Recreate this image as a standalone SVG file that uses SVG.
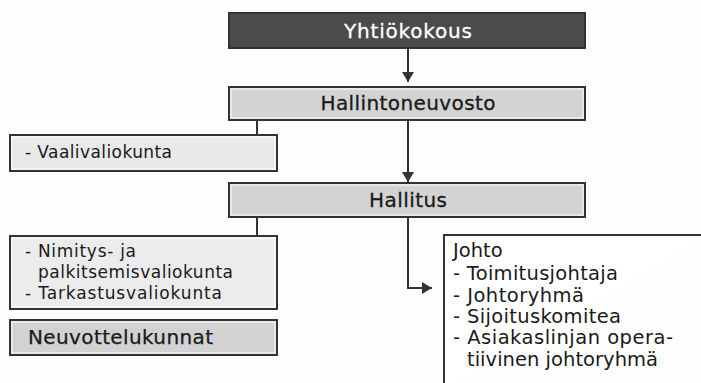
<svg xmlns="http://www.w3.org/2000/svg" width="701" height="383" viewBox="0 0 701 383">
<style>
text{font-family:"DejaVu Sans","Liberation Sans",sans-serif;fill:#1a1a1a}
.b{stroke:#333;stroke-width:2}
.in{fill:none;stroke:#fff;stroke-width:1}
.h{font-size:20px;text-anchor:middle;stroke:#1a1a1a;stroke-width:0.3}
.l{font-size:17px}
.j{font-size:19.5px}
.c{fill:none;stroke:#333;stroke-width:2}
</style>
<defs>
<marker id="ah" markerWidth="12" markerHeight="12" viewBox="0 0 10 12" refX="10" refY="6" orient="auto" markerUnits="userSpaceOnUse">
<path d="M0,0 L10,6 L0,12 z" fill="#333"/>
</marker>
</defs>
<rect width="701" height="383" fill="#fdfdfd"/>
<g id="connectors">
<path class="c" d="M408,48 V82" marker-end="url(#ah)"/>
<path class="c" d="M408,120 V182" marker-end="url(#ah)"/>
<path class="c" d="M257,120 V135"/>
<path class="c" d="M257,217 V236"/>
<path class="c" d="M408,217 V288 H432" marker-end="url(#ah)"/>
</g>
<g id="yhtiokokous">
<rect class="b" x="229" y="13" width="356" height="35" fill="#4b4b4b"/>
<text class="h" x="408" y="38" style="fill:#fff;stroke:#fff" textLength="128" lengthAdjust="spacing">Yhtiökokous</text>
</g>
<g id="hallintoneuvosto">
<rect class="b" x="229" y="87" width="356" height="33" fill="#d3d3d3"/>
<rect class="in" x="231" y="89" width="352" height="29"/>
<text class="h" x="408" y="110" textLength="175" lengthAdjust="spacing">Hallintoneuvosto</text>
</g>
<g id="vaalivaliokunta">
<rect class="b" x="10" y="135" width="267" height="36" fill="#e9e9e9"/>
<rect class="in" x="12" y="137" width="263" height="32"/>
<text class="l" x="25" y="158" textLength="147" lengthAdjust="spacing">- Vaalivaliokunta</text>
</g>
<g id="hallitus">
<rect class="b" x="229" y="183" width="356" height="34" fill="#d3d3d3"/>
<rect class="in" x="231" y="185" width="352" height="30"/>
<text class="h" x="408" y="207" textLength="78" lengthAdjust="spacing">Hallitus</text>
</g>
<g id="valiokunnat">
<rect class="b" x="10" y="236" width="267" height="73" fill="#ececec"/>
<rect class="in" x="12" y="238" width="263" height="69"/>
<text class="l" x="25" y="257" textLength="111" lengthAdjust="spacing">- Nimitys- ja</text>
<text class="l" x="38" y="278" textLength="195" lengthAdjust="spacing">palkitsemisvaliokunta</text>
<text class="l" x="25" y="299" textLength="197" lengthAdjust="spacing">- Tarkastusvaliokunta</text>
</g>
<g id="neuvottelukunnat">
<rect class="b" x="10" y="320" width="267" height="35" fill="#d2d2d2"/>
<rect class="in" x="12" y="322" width="263" height="31"/>
<text x="28" y="344" style="font-size:20px;stroke:#1a1a1a;stroke-width:0.25" textLength="185" lengthAdjust="spacing">Neuvottelukunnat</text>
</g>
<g id="johto">
<path d="M444,390 V235 H710" fill="#fff" stroke="#333" stroke-width="2"/>
<text class="j" x="453" y="257">Johto</text>
<text class="j" x="453" y="280" textLength="165" lengthAdjust="spacing">- Toimitusjohtaja</text>
<text class="j" x="453" y="302" textLength="131" lengthAdjust="spacing">- Johtoryhmä</text>
<text class="j" x="453" y="323" textLength="168" lengthAdjust="spacing">- Sijoituskomitea</text>
<text class="j" x="453" y="344" textLength="220" lengthAdjust="spacing">- Asiakaslinjan opera-</text>
<text class="j" x="467" y="366" textLength="191" lengthAdjust="spacing">tiivinen johtoryhmä</text>
</g>
</svg>
